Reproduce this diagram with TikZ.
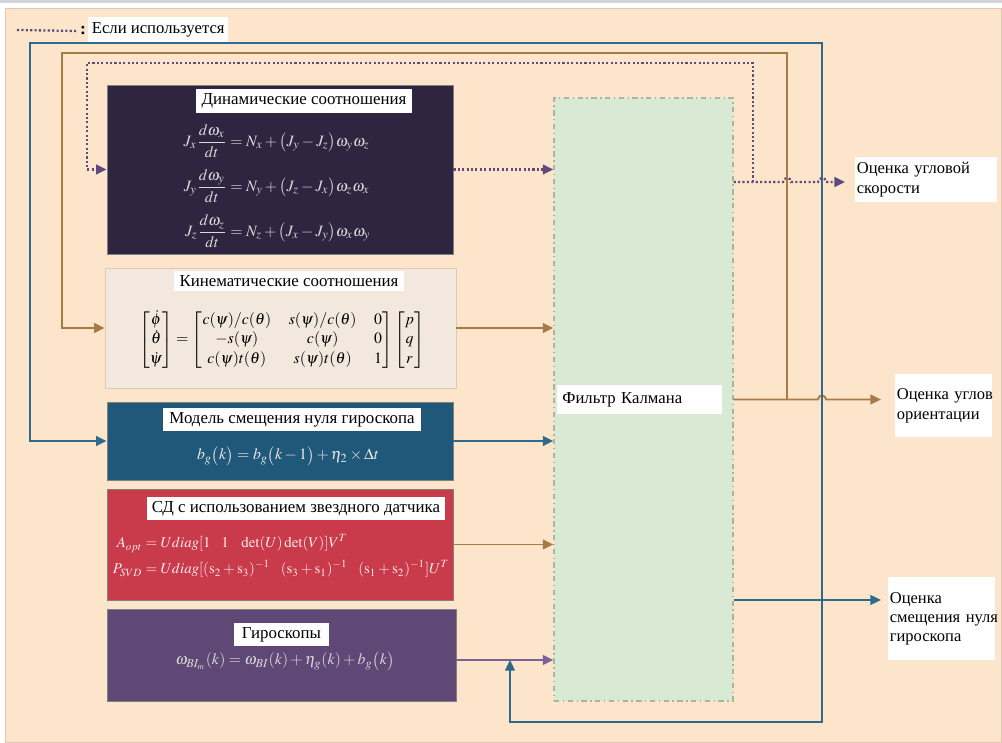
\documentclass[tikz,border=0pt]{standalone}
\usepackage{amsmath}
\usepackage{mathptmx}
\usepackage{fontspec}
\setmainfont{Liberation Serif}
\usetikzlibrary{arrows.meta,calc,positioning}

\definecolor{peach}{HTML}{FDE5CB}
\definecolor{peachedge}{HTML}{E2C5B5}
\definecolor{topgray}{HTML}{D0D4D9}
\definecolor{dync}{HTML}{2F2540}
\definecolor{kinc}{HTML}{F2E8DD}
\definecolor{kinedge}{HTML}{E0CBAE}
\definecolor{biasc}{HTML}{1F5878}
\definecolor{sdc}{HTML}{C93B4B}
\definecolor{gyroc}{HTML}{5F4776}
\definecolor{kfc}{HTML}{D9EAD4}
\definecolor{kfedge}{HTML}{A3B89C}
\definecolor{brn}{HTML}{A67C46}
\definecolor{blu}{HTML}{2F6A8A}
\definecolor{pur}{HTML}{7A6294}
\definecolor{dotc}{HTML}{5E4A7C}

\begin{document}
\begin{tikzpicture}[x=0.02cm,y=0.02cm,
    every node/.style={font=\fontsize{9.5}{11.5}\selectfont},
    blk/.style={rectangle,inner sep=0pt,line width=0.5pt},
    ttl/.style={fill=white,text=black,inner xsep=3pt,inner ysep=2.5pt,font=\fontsize{9.6}{11.5}\selectfont},
    eqn/.style={font=\fontsize{9}{11}\selectfont},
    lbl/.style={fill=white,align=left,anchor=north west,inner xsep=0.03cm,inner ysep=3pt,font=\fontsize{9.4}{11}\selectfont},
    ln/.style={line width=1.1pt},
    tip/.style={-{Triangle[length=6pt,width=5.5pt]}},
    dotln/.style={line width=1.3pt,dotc,dash pattern=on 1.2pt off 1.3pt}]

  \fill[topgray] (0,0) rectangle (1002,-3);
  \draw[fill=peach,draw=peachedge] (5,-8) rectangle (1001,-742);
  \useasboundingbox (0,0) rectangle (1002,-742);

  % legend
  \coordinate (legA) at (17,-30);
  \node[inner sep=0pt,font=\bfseries] (colon) at (83,-31) {:};
  \node[fill=white,anchor=west,inner xsep=2pt,inner ysep=3pt] (leg) at (88,-30) {Если используется};
  \draw[dotln] (legA) -- ([xshift=-2pt]colon.west);

  % blocks
  \node[blk,fill=dync,draw=gray,minimum width=6.92cm,minimum height=3.38cm] (dyn) at (280,-169.5) {};
  \node[ttl,minimum width=4.16cm] (dynT) at (304,-101) {Динамические соотношения};
  \node[eqn,text=white!85!black] (dynE) at (277,-186) {$\begin{aligned}
      J_x\frac{d\omega_x}{dt} &= N_x+\bigl(J_y-J_z\bigr)\omega_y\omega_z\\[3pt]
      J_y\frac{d\omega_y}{dt} &= N_y+\bigl(J_z-J_x\bigr)\omega_z\omega_x\\[3pt]
      J_z\frac{d\omega_z}{dt} &= N_z+\bigl(J_x-J_y\bigr)\omega_x\omega_y
    \end{aligned}$};

  \node[blk,fill=kinc,draw=kinedge,minimum width=7.02cm,minimum height=2.4cm] (kin) at (280.5,-328) {};
  \node[ttl,minimum width=4.44cm] (kinT) at (289,-281.5) {Кинематические соотношения};
  \node[eqn] (kinE) at (282,-340) {$\begin{bmatrix}\dot\phi\\ \dot\theta\\ \dot\psi\end{bmatrix}
      =\begin{bmatrix} c(\psi)/c(\theta) & s(\psi)/c(\theta) & 0\\
        -s(\psi) & c(\psi) & 0\\
        c(\psi)t(\theta) & s(\psi)t(\theta) & 1\end{bmatrix}
      \begin{bmatrix}p\\ q\\ r\end{bmatrix}$};

  \node[blk,fill=biasc,draw=gray,minimum width=6.92cm,minimum height=1.56cm] (bias) at (280,-441) {};
  \node[ttl,minimum width=5.16cm] (biasT) at (292,-419.5) {Модель смещения нуля гироскопа};
  \node[eqn,text=white!92!black] (biasE) at (288,-456) {$b_g\bigl(k\bigr)=b_g\bigl(k-1\bigr)+\eta_2\times\Delta t$};

  \node[blk,fill=sdc,draw=gray,minimum width=6.92cm,minimum height=2.22cm] (sd) at (280,-544.5) {};
  \node[ttl,minimum width=5.84cm] (sdT) at (296,-508.5) {СД с использованием звездного датчика};
  \node[eqn,font=\fontsize{8.5}{10.5}\selectfont,text=white!90!sdc] (sdE) at (281,-557) {$\begin{aligned}
      A_{opt} &= Udiag[1\enspace\; 1\enspace\; \det(U)\det(V)]V^T\\
      P_{SVD} &= Udiag[(\mathrm{s}_2+\mathrm{s}_3)^{-1}\enspace\;(\mathrm{s}_3+\mathrm{s}_1)^{-1}\enspace\;(\mathrm{s}_1+\mathrm{s}_2)^{-1}]U^T
    \end{aligned}$};

  \node[blk,fill=gyroc,draw=gray,minimum width=6.98cm,minimum height=1.84cm] (gyro) at (281.5,-655) {};
  \node[ttl,minimum width=1.9cm,align=left] (gyroT) at (281.5,-634.5) {Гироскопы\hfill};
  \node[eqn,text=white!85!black] (gyroE) at (285,-661) {$\omega_{BI_m}(k)=\omega_{BI}(k)+\eta_g(k)+b_g\bigl(k\bigr)$};

  \node[blk,fill=kfc,draw=kfedge,line width=0.8pt,dash pattern=on 3pt off 2pt on 0.8pt off 2pt,
        minimum width=3.58cm,minimum height=12.06cm] (kf) at (643.5,-399.5) {};
  \node[fill=white,anchor=west,text width=3.1cm,inner xsep=0.1cm,minimum height=0.58cm] (kfT) at (557,-399.5) {Фильтр Калмана};

  % outputs
  \node[lbl,text width=2.78cm,minimum height=0.86cm] (vel) at (855,-157) {Оценка~угловой\\скорости};
  \node[lbl,text width=1.88cm,minimum height=1.26cm] (att) at (895,-374) {Оценка~углов\\ориентации};
  \node[lbl,text width=2.08cm,minimum height=1.66cm] (bout) at (888,-577) {Оценка\\смещения~нуля\\гироскопа};

  % into the filter
  \draw[dotln,tip] (dyn.east) -- (dyn.east -| kf.west);
  \foreach \b/\c in {kin/brn,bias/blu,sd/brn}
    \draw[ln,\c,tip] (\b.east) -- (\b.east -| kf.west);
  \coordinate (gj) at (510,-660);
  \draw[ln,pur,tip] (gyro.east |- gj) -- (gj -| kf.west);

  % angular rate estimate
  \coordinate (vo) at (kf.east |- 0,-182);
  \coordinate (vt) at (753,-182);
  \coordinate (ve) at (845,-182);
  \draw[dotln,tip] (vo) -- (783,-182) arc[start angle=180,end angle=0,radius=4]
    -- (818,-182) arc[start angle=180,end angle=0,radius=4] -- (ve);
  \draw[dotln,tip] (vt) |- (87,-63) |- (dyn.west);

  % attitude estimate
  \coordinate (at) at (787,-399.5);
  \coordinate (ae) at (881,-399.5);
  \draw[ln,brn,tip] (kf.east) -- (818,-399.5) arc[start angle=180,end angle=0,radius=4] -- (ae);
  \draw[ln,brn,tip] (at) |- (62,-53) |- (kin.west);

  % gyro bias estimate
  \coordinate (bo) at (kf.east |- 0,-600);
  \coordinate (bt) at (822,-600);
  \coordinate (be) at (881,-600);
  \draw[ln,blu,tip] (bo) -- (be);
  \draw[ln,blu,tip] (bt) |- (30,-43) |- (bias.west);
  \draw[ln,blu,tip] (bt) |- (gj |- 0,-722) -- (gj);
\end{tikzpicture}
\end{document}
